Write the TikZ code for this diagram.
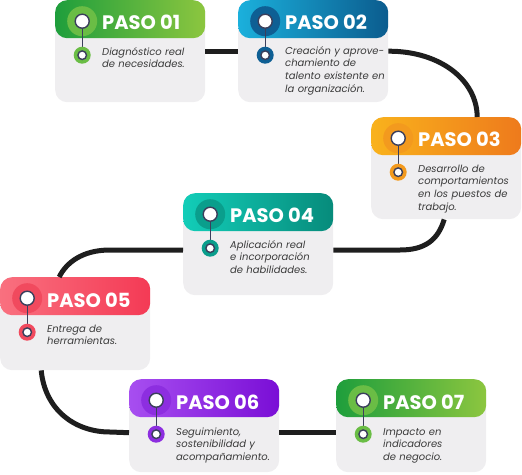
\documentclass[tikz,border=0pt]{standalone}
\usepackage{fontspec}
\setmainfont{Poppins}
\usetikzlibrary{positioning, calc}

\definecolor{cardbg}{HTML}{EFEEF0}
\definecolor{roadcol}{HTML}{1E1E1E}
\definecolor{pinline}{HTML}{3B3F5C}
\definecolor{bodytext}{HTML}{3A3A3A}
\definecolor{greenL}{HTML}{1E9E3C}
\definecolor{greenR}{HTML}{8CC63F}
\definecolor{greenI}{HTML}{6ABD45}
\definecolor{blueL}{HTML}{1BB0DC}
\definecolor{blueR}{HTML}{0B5C8E}
\definecolor{blueI}{HTML}{0E5F94}
\definecolor{orangeL}{HTML}{F9B21C}
\definecolor{orangeR}{HTML}{EE7A1C}
\definecolor{orangeI}{HTML}{F39A1E}
\definecolor{tealL}{HTML}{12CDB8}
\definecolor{tealR}{HTML}{078B7B}
\definecolor{tealI}{HTML}{0A9E8C}
\definecolor{redL}{HTML}{F9707F}
\definecolor{redR}{HTML}{F43A55}
\definecolor{redI}{HTML}{F14A5E}
\definecolor{purpleL}{HTML}{A74EF0}
\definecolor{purpleR}{HTML}{7A0ED6}
\definecolor{purpleI}{HTML}{8D2EE0}

\begin{document}
\begin{tikzpicture}[
    x=1pt, y=-1pt,
    card/.style n args={3}{rectangle, rounded corners=12pt, minimum width=150pt, minimum height=102pt,
        fill=cardbg, anchor=north west, inner sep=0pt,
        path picture={
            \fill[left color=#1, right color=#2] (path picture bounding box.north west) rectangle ([yshift=-38pt]path picture bounding box.north east);
            \fill[#3] ([xshift=27pt,yshift=-21pt]path picture bounding box.north west) circle (15pt);
            \draw[pinline, line width=1.2pt] ([xshift=27pt,yshift=-21pt]path picture bounding box.north west) -- ([xshift=27pt,yshift=-55pt]path picture bounding box.north west);
            \filldraw[fill=white, draw=pinline, line width=1.4pt] ([xshift=27pt,yshift=-21pt]path picture bounding box.north west) circle (7pt);
            \fill[#3] ([xshift=27pt,yshift=-55pt]path picture bounding box.north west) circle (8.5pt);
            \filldraw[fill=white, draw=pinline, line width=1.4pt] ([xshift=27pt,yshift=-55pt]path picture bounding box.north west) circle (4.3pt);
        }},
    short/.style={minimum height=93pt},
    head/.style={anchor=base west, inner sep=0pt, text=white, font=\fontsize{19.5}{21}\selectfont\bfseries},
    body/.style={anchor=base west, inner sep=0pt, text=bodytext, text width=115pt, align=left,
        font=\fontsize{10}{12.7}\selectfont\itshape},
    road/.style={draw=roadcol, line width=5pt}
]
\useasboundingbox (0,0) rectangle (522,474);

% Cards
\node[card={greenL}{greenR}{greenI}] (p1) at (55,0) {};
\node[card={blueL}{blueR}{blueI}] (p2) at (238,0) {};
\node[card={orangeL}{orangeR}{orangeI}] (p3) at (371,117) {};
\node[card={tealL}{tealR}{tealI}] (p4) at (183,193) {};
\node[card={redL}{redR}{redI}, short] (p5) at (0,277) {};
\node[card={purpleL}{purpleR}{purpleI}, short] (p6) at (129,379) {};
\node[card={greenL}{greenR}{greenI}, short] (p7) at (336,379) {};

% Road between the steps
\draw[road] (p1.east) -- (p2.west);
\draw[road] (p2.east) .. controls (440,51) and (477,80) .. ([xshift=31pt]p3.north);
\draw[road] ([xshift=-2pt]p3.south) .. controls (438,240) and (425,250) .. (400,250) -- ([yshift=-6pt]p4.east);
\draw[road] ([yshift=-6pt]p4.west) -- (110,250) .. controls (82,250) and (66,263) .. ([xshift=-16pt]p5.north);
\draw[road] ([xshift=-34pt]p5.south) .. controls (45,410) and (75,432) .. (110,432) -- ([yshift=-7pt]p6.west);
\draw[road] ([yshift=-7pt]p6.east) -- ([yshift=-7pt]p7.west);

% Titles
\node[head] (h1) at ([xshift=47pt,yshift=-29pt]p1.north west) {PASO 01};
\node[head] (h2) at ([xshift=47pt,yshift=-29pt]p2.north west) {PASO 02};
\node[head] (h3) at ([xshift=47pt,yshift=-29pt]p3.north west) {PASO 03};
\node[head] (h4) at ([xshift=47pt,yshift=-29pt]p4.north west) {PASO 04};
\node[head] (h5) at ([xshift=47pt,yshift=-30pt]p5.north west) {PASO 05};
\node[head] (h6) at ([xshift=47pt,yshift=-30pt]p6.north west) {PASO 06};
\node[head] (h7) at ([xshift=47pt,yshift=-30pt]p7.north west) {PASO 07};

% Texts
\node[body] (t1) at ([xshift=47pt,yshift=-55pt]p1.north west) {Diagnóstico real\\de necesidades.};
\node[body] (t2) at ([xshift=47pt,yshift=-54pt]p2.north west) {Creación y aprove-\\chamiento de\\talento existente en\\la organización.};
\node[body] (t3) at ([xshift=47pt,yshift=-55pt]p3.north west) {Desarrollo de\\comportamientos\\en los puestos de\\trabajo.};
\node[body] (t4) at ([xshift=47pt,yshift=-55pt]p4.north west) {Aplicación real\\e incorporación\\de habilidades.};
\node[body] (t5) at ([xshift=47pt,yshift=-55pt]p5.north west) {Entrega de\\herramientas.};
\node[body] (t6) at ([xshift=47pt,yshift=-56pt]p6.north west) {Seguimiento,\\sostenibilidad y\\acompañamiento.};
\node[body] (t7) at ([xshift=47pt,yshift=-56pt]p7.north west) {Impacto en\\indicadores\\de negocio.};

\end{tikzpicture}
\end{document}
